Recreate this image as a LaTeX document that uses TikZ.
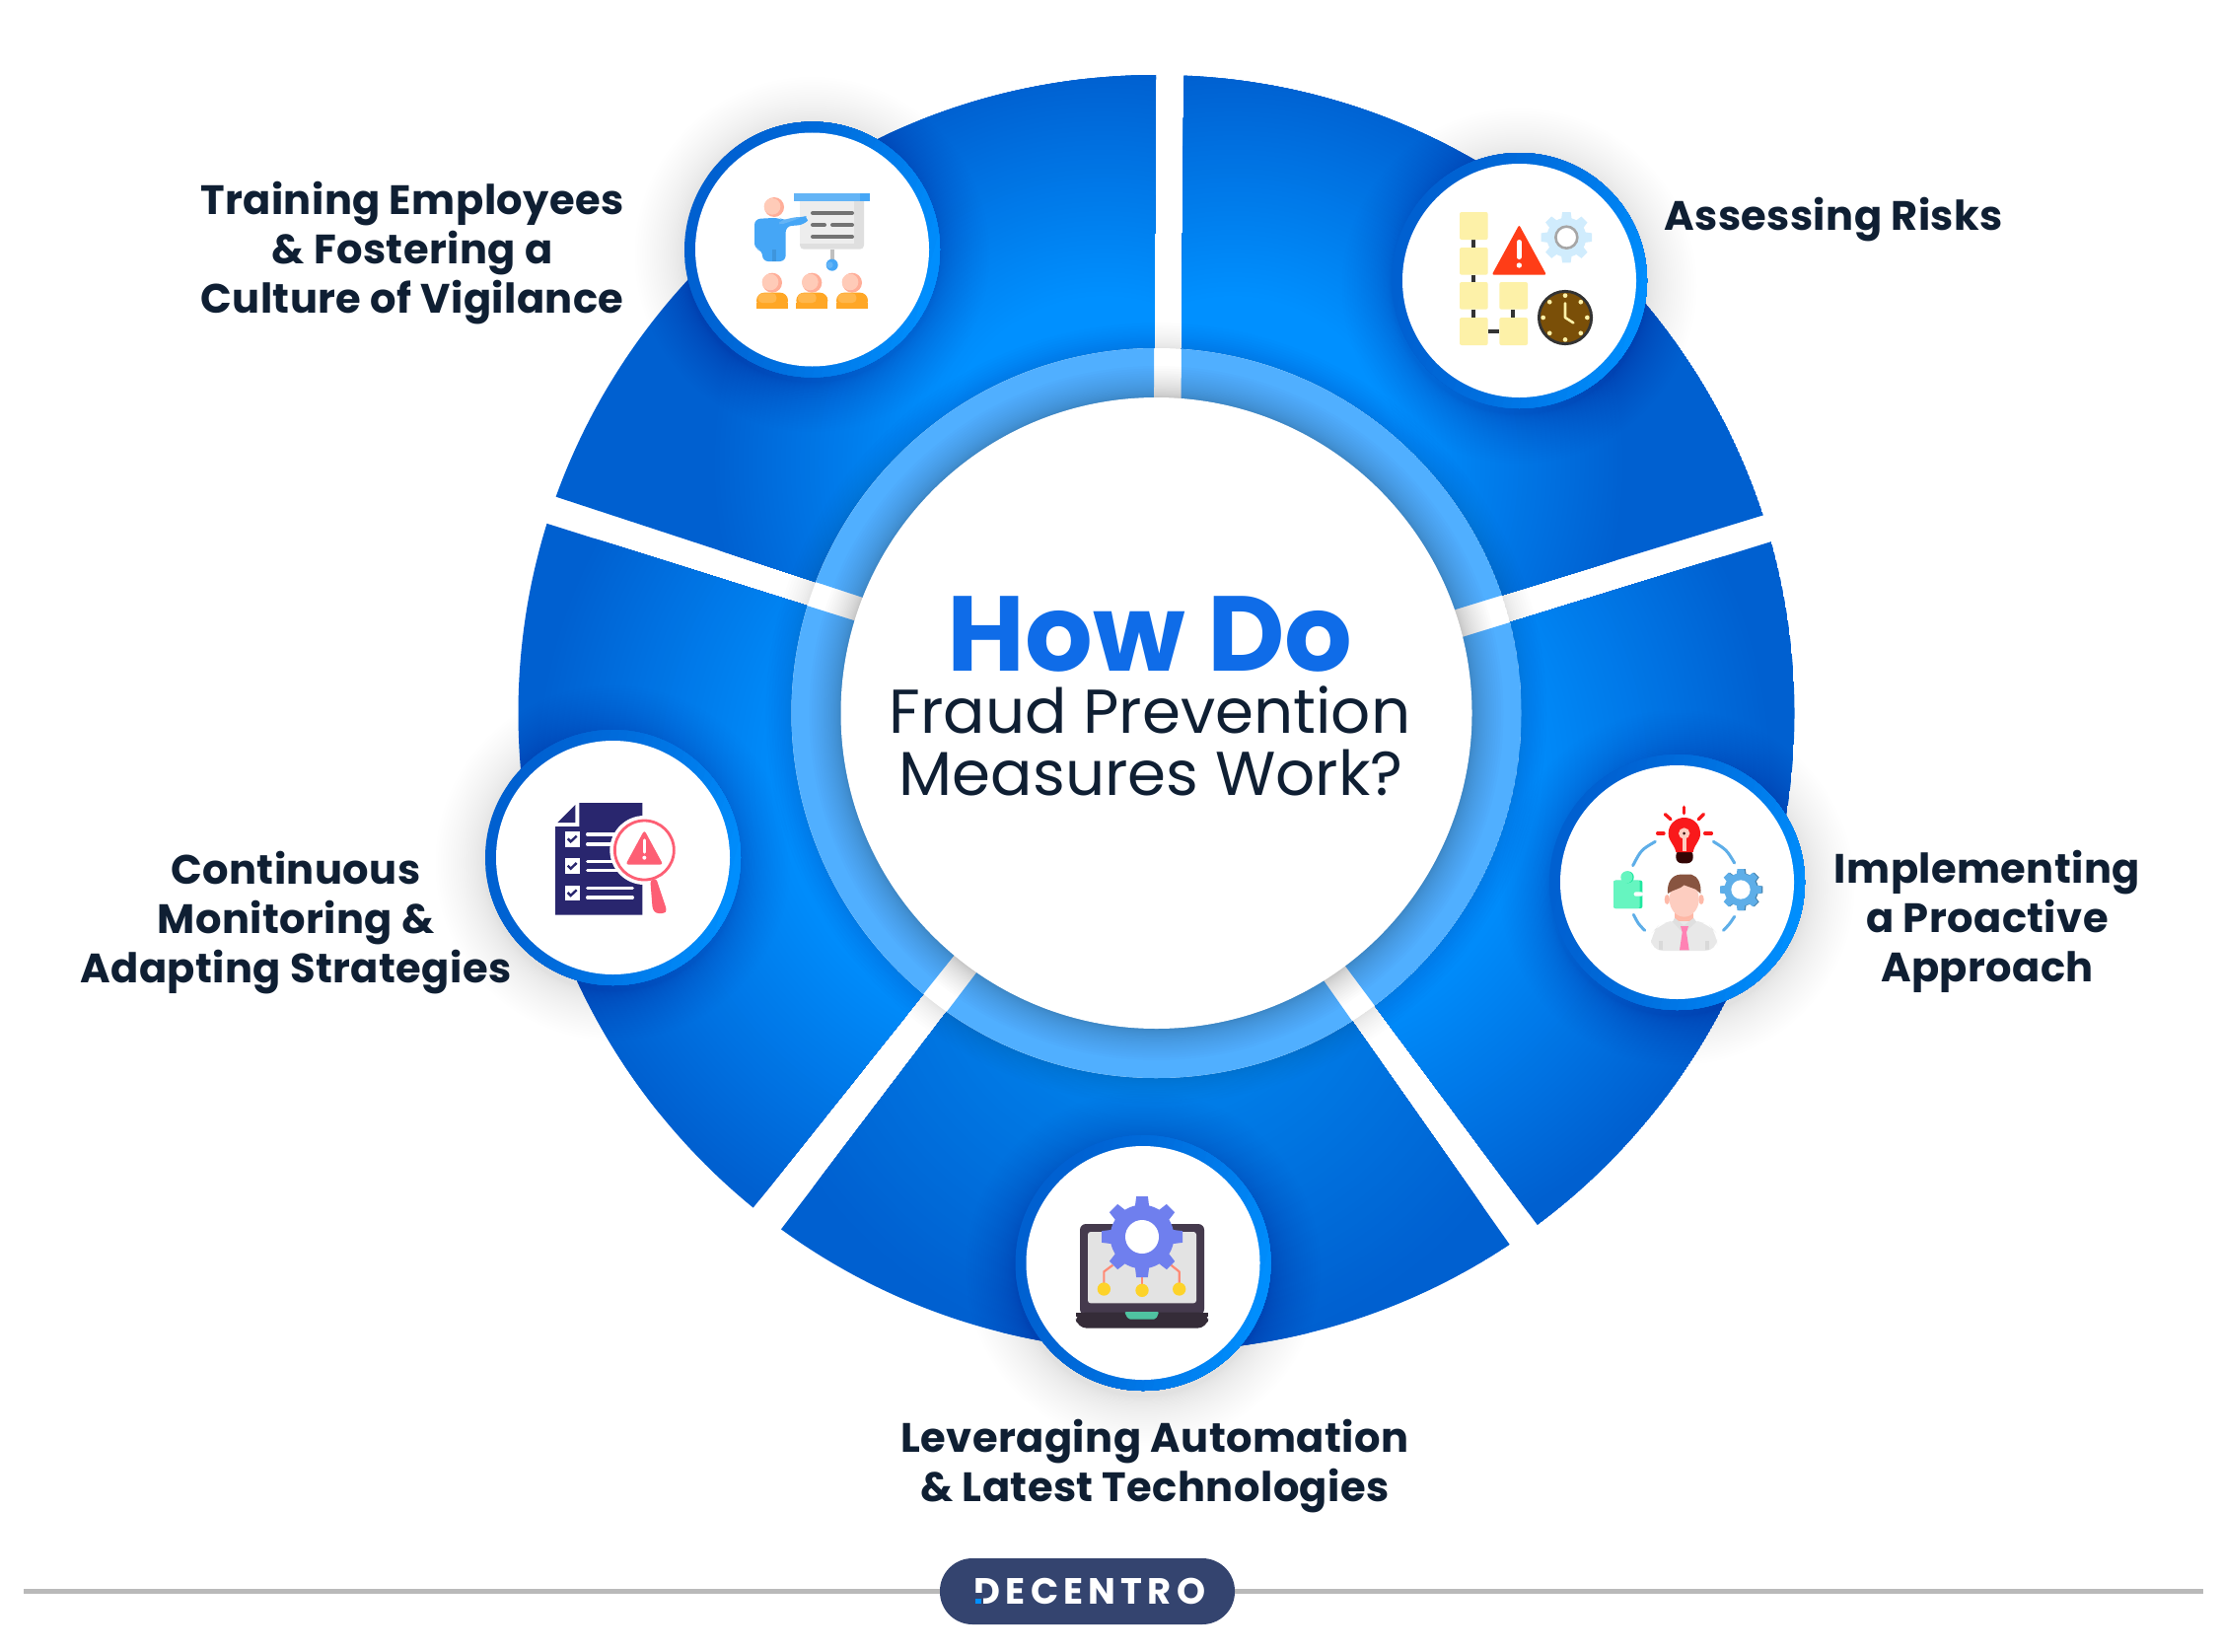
\documentclass[tikz,border=0pt]{standalone}
\usepackage{fontspec}
\setmainfont{Poppins}
\definecolor{brightB}{HTML}{0090FF}
\definecolor{midB}{HTML}{0082EC}
\definecolor{darkB}{HTML}{0060D0}
\definecolor{ringB}{HTML}{50AFFF}
\definecolor{ink}{HTML}{0F1F33}
\definecolor{navy}{HTML}{34446F}
\definecolor{skin}{HTML}{FFCBB8}
\definecolor{skinD}{HTML}{FFAE99}
\definecolor{sky}{HTML}{45A6F6}
\definecolor{skyL}{HTML}{63B4F6}
\definecolor{note}{HTML}{FDF1A8}
\definecolor{coal}{HTML}{333333}
\definecolor{alert}{HTML}{FF3D17}
\definecolor{pale}{HTML}{D0ECFD}
\definecolor{brown}{HTML}{7A4F08}
\definecolor{bulb}{HTML}{F9191B}
\definecolor{arcB}{HTML}{5EAEE8}
\definecolor{mint}{HTML}{66F5C0}
\definecolor{mintD}{HTML}{20E8A0}
\definecolor{hair}{HTML}{885440}
\definecolor{face}{HTML}{FDCDC0}
\definecolor{shirt}{HTML}{E8E8E8}
\definecolor{tie}{HTML}{FF82B4}
\definecolor{lapD}{HTML}{453A4D}
\definecolor{lapB}{HTML}{352C38}
\definecolor{cog}{HTML}{6F7FEE}
\definecolor{wire}{HTML}{FF8A75}
\definecolor{dotY}{HTML}{FDD32A}
\definecolor{teal}{HTML}{4FC3A1}
\definecolor{docN}{HTML}{29266E}
\definecolor{rose}{HTML}{FD5F74}
\definecolor{orng}{HTML}{FFA726}
\definecolor{orngL}{HTML}{FFB74D}
\definecolor{titleB}{HTML}{0F6CE8}
\definecolor{shade1}{HTML}{1A3A66}
\tikzset{
 zoomat/.style 2 args={shift={(#1,#2)},x=0.16667pt,y=-0.16667pt},
 lab/.style={font=\fontsize{20.8pt}{25pt}\selectfont\bfseries\addfontfeature{LetterSpace=1},text=ink,align=center,inner sep=0pt},
 thinline/.style={line width=#1*0.16667pt,line cap=round}
}
\newcommand\softdisc[7]{% cx cy rin rout steps op colour
 \foreach \kk in {1,...,#5}{%
  \pgfmathsetmacro\rr{#3+(#4-#3)*(\kk/#5)^1.6}%
  \fill[#7,opacity=#6] (#1,#2) circle (\rr);}}
\newcommand\cogwheel[7]{% cx cy root out halfw n colour
 \fill[#7] (#1,#2) circle (#3);
 \foreach \kk in {1,...,#6}{%
  \pgfmathsetmacro\aa{\kk*360/#6}%
  \fill[#7,rotate around={\aa:(#1,#2)}] ({#1-#5},{#2-#3*0.9}) -- ({#1-#5*0.8},{#2-#4}) -- ({#1+#5*0.8},{#2-#4}) -- ({#1+#5},{#2-#3*0.9}) -- cycle;}}
\newcommand\badge[2]{%
 \begin{scope}
  \clip (#1,#2) circle (129.5);
  \fill[darkB] (#1,#2) circle (129.5);
  \foreach \kk in {1,...,30}{%
   \pgfmathsetmacro\pp{100*(\kk/30)^1.5}%
   \fill[brightB!\pp!darkB,rotate around={-15:(#1,#2)}] ({#1-130+\kk*8.6},{#2-150}) rectangle ({#1+150},{#2+150});}
 \end{scope}
 \fill[white] (#1,#2) circle (118.5);}
\newcommand\sector[6]{% polygon, cx, cy, r-full-colour, r-dark, inner colour
 \begin{scope}
  \clip #1;
  \clip (1172.5,723) circle (647);
  \fill[darkB] (1172.5,723) circle (647);
  \foreach \kk in {0,...,48}{%
   \pgfmathsetmacro\rr{#5-(#5-#4)*\kk/48}%
   \pgfmathsetmacro\pp{\kk*100/48}%
   \fill[#6!\pp!darkB] (#2,#3) circle (\rr);}
 \end{scope}}
\def\polyTL{(400,450) -- (1168,702) -- (1172.5,0) -- (400,0) -- cycle}
\def\polyTR{(1201,0) -- (1195,704) -- (1900,488) -- (1900,0) -- cycle}
\def\polyR{(1900,517) -- (1185,738) -- (1676,1400) -- (1900,1400) -- cycle}
\def\polyB{(1628,1400) -- (1170,750) -- (675,1400) -- cycle}
\def\polyBL{(400,482) -- (1163,723) -- (624,1400) -- (400,1400) -- cycle}
\begin{document}
\begin{tikzpicture}[x=0.5pt,y=-0.5pt]
\useasboundingbox (0,0) rectangle (2253,1675);
\fill[white] (0,0) rectangle (2253,1675);
% sectors
\sector{\polyTL}{1120}{470}{170}{400}{brightB}
\sector{\polyTR}{1250}{470}{170}{400}{brightB}
\sector{\polyR}{1290}{790}{240}{510}{brightB}
\sector{\polyBL}{1050}{790}{240}{510}{brightB}
\sector{\polyB}{1172}{950}{130}{430}{midB}
% shadow cast by the ring
\softdisc{1172.5}{723}{370}{396}{14}{0.008}{black}
% light ring
\begin{scope}
 \clip (1172.5,723) circle (370);
 \fill[white] (1172.5,723) circle (370);
 \fill[ringB] \polyTL; \fill[ringB] \polyTR; \fill[ringB] \polyR; \fill[ringB] \polyB; \fill[ringB] \polyBL;
\end{scope}
\softdisc{1172.5}{723}{320}{352}{20}{0.012}{black}
\fill[white] (1172.5,723) circle (320);
% badge shadows
\softdisc{823.5}{258}{130}{180}{30}{0.0055}{shade1}
\softdisc{1540.5}{290}{130}{180}{30}{0.0055}{shade1}
\softdisc{1700.5}{900}{130}{180}{30}{0.0055}{shade1}
\softdisc{1159}{1286}{130}{180}{30}{0.0055}{shade1}
\softdisc{621.5}{875}{130}{180}{30}{0.0055}{shade1}
% badges
\badge{823.5}{253}
\badge{1540.5}{284.5}
\badge{1700.5}{894.5}
\badge{1159}{1280.5}
\badge{621.5}{869.5}
% icon 1: training
\begin{scope}[zoomat={680}{100}]
 \fill[skyL] (375,288) rectangle (606,312);
 \fill[sky] (576,288) rectangle (606,312);
 \fill[gray!25,rounded corners=2pt] (393,300) -- (393,458) -- (588,458) -- (588,300) -- cycle;
 \fill[white!93!black] (393,312) rectangle (558,440);
 \fill[skyL] (375,288) rectangle (576,312);
 \fill[sky] (576,288) rectangle (606,312);
 \foreach \ya/\xa/\xb in {348/426/558,384/426/474,384/486/558,420/426/558}
  \draw[thinline=12,gray!90!black] (\xa+6,\ya) -- (\xb-6,\ya);
 \fill[gray!50] (486,458) rectangle (498,490);
 \fill[sky] (491,506) circle (18);
 \fill[skyL] (484,506) circle (10);
 \fill[skinD] (315,330) circle (30);
 \fill[skin] (309,328) circle (25);
 \fill[sky,rounded corners=3pt] (279,495) -- (279,460) -- (255,458) -- (255,366) -- (330,362) -- (345,372) -- (395,360) .. controls (408,358) and (418,370) .. (405,384) -- (350,388) -- (350,495) -- cycle;
 \fill[skyL,rounded corners=2pt] (330,372) -- (380,360) -- (400,360) -- (370,372) -- (330,385) -- cycle;
 \fill[black!10!sky] (309,460) rectangle (322,495);
 \foreach \dx in {0,121,243}{
  \fill[skinD] ({309+\dx},560) circle (30);
  \fill[skin] ({303+\dx},558) circle (25);
  \fill[orng,rounded corners=4pt] ({261+\dx},638) -- ({261+\dx},590) -- ({357+\dx},590) -- ({357+\dx},638) -- cycle;
  \fill[orng] ({261+\dx},620) rectangle ({357+\dx},638);
  \fill[orngL,rounded corners=2pt] ({266+\dx},621) -- ({266+\dx},592) -- ({322+\dx},592) -- ({322+\dx},621) -- cycle;
 }
\end{scope}
% icon 2: risks
\begin{scope}[zoomat={1400}{140}]
 \foreach \xa/\ya/\xb/\yb in {282/309/282/333,282/416/282/438,282/521/282/546,403/521/403/546}
  \draw[coal,line width=2pt] (\xa,\ya) -- (\xb,\yb);
 \draw[coal,line width=2pt] (326,589) -- (361,589);
 \foreach \xa/\ya/\xb/\yb in {240/225/326/309,240/333/326/416,240/438/326/521,240/546/326/630,361/438/447/521,361/546/447/630}
  \fill[note,rounded corners=1pt] (\xa,\ya) rectangle (\xb,\yb);
 \fill[alert,rounded corners=1pt] (421,264) -- (338,416) -- (504,416) -- cycle;
 \draw[white,thinline=14] (421,316) -- (421,362);
 \fill[white] (421,387) circle (8);
 \cogwheel{565}{302}{60}{77}{16}{8}{pale}
 \fill[white] (565,302) circle (36);
 \draw[gray!70,line width=1.3pt] (565,302) circle (33);
 \fill[brown,draw=coal,line width=1.4pt] (561,546) circle (80);
 \foreach \aa in {0,45,...,315}
  \fill[note] ({561+67*cos(\aa)},{546+67*sin(\aa)}) circle (7);
 \draw[note,line width=1.3pt,line cap=round,line join=round] (561,502) -- (561,546) -- (586,562);
\end{scope}
% icon 3: proactive
\begin{scope}[zoomat={1560}{760}]
 \draw[bulb,thinline=10] (443,175) -- (443,194);
 \draw[bulb,thinline=10] (385,197) -- (402,212);
 \draw[bulb,thinline=10] (502,197) -- (487,212);
 \draw[bulb,thinline=10] (362,255) -- (381,255);
 \draw[bulb,thinline=10] (506,255) -- (526,255);
 \fill[black!80!bulb,rounded corners=3pt] (418,305) -- (470,305) -- (470,346) -- (418,346) -- cycle;
 \fill[bulb] (418,312) .. controls (412,285) and (395,280) .. (395,255) .. controls (395,225) and (420,207) .. (443,207) .. controls (468,207) and (492,225) .. (492,255) .. controls (492,280) and (475,285) .. (470,312) -- cycle;
 \fill[face] (437,268) rectangle (449,310);
 \fill[face] (443,255) circle (17);
 \fill[black!80!bulb] (443,255) circle (4.5);
 \foreach \xa/\ya/\xc/\yc/\xb/\yb in {355/280/312/305/287/353,532/280/572/305/596/345,289/502/303/530/323/550,596/508/580/532/562/550}
  \draw[arcB,thinline=9] (\xa,\ya) .. controls (\xc,\yc) .. (\xb,\yb);
 \fill[mintD,rounded corners=1pt] (228,398) rectangle (316,483);
 \fill[mint,rounded corners=1pt] (228,398) rectangle (308,483);
 \fill[mintD] (272,388) circle (18);
 \fill[mint] (268,388) circle (18);
 \fill[white,rounded corners=1pt] (290,433) rectangle (318,446);
 \cogwheel{619}{426}{50}{63}{13}{8}{black!25!arcB}
 \cogwheel{615}{426}{50}{63}{13}{8}{arcB}
 \fill[white] (615,426) circle (29);
 \fill[shirt,rounded corners=6pt] (342,612) -- (342,560) -- (368,532) -- (415,518) -- (470,518) -- (518,532) -- (543,560) -- (543,612) -- cycle;
 \fill[gray!30] (366,582) rectangle (378,610);
 \fill[gray!30] (507,582) rectangle (519,610);
 \fill[skinD!70!face] (415,490) rectangle (472,522);
 \fill[gray!25] (414,512) -- (442,535) -- (472,512) -- (480,524) -- (452,550) -- (432,550) -- (408,524) -- cycle;
 \fill[tie] (432,537) -- (456,537) -- (450,556) -- (458,610) -- (429,610) -- (437,556) -- cycle;
 \fill[skinD!60!face] (391,456) ellipse (8 and 15);
 \fill[skinD!60!face] (495,456) ellipse (8 and 15);
 \fill[face] (443,455) ellipse (45 and 54);
 \fill[skinD!60!face] (420,505) .. controls (430,520) and (456,520) .. (468,505) -- (468,512) .. controls (456,525) and (430,525) .. (420,512) -- cycle;
 \fill[hair] (393,438) .. controls (390,405) and (405,382) .. (430,380) -- (465,380) .. controls (485,385) and (496,410) .. (493,438) -- (478,425) .. controls (465,420) and (450,415) .. (443,412) .. controls (430,425) and (410,425) .. (393,438) -- cycle;
\end{scope}
% icon 4: automation
\begin{scope}[zoomat={1020}{1160}]
 \fill[lapD,rounded corners=3pt] (225,243) rectangle (603,520);
 \fill[gray!22,rounded corners=1.4pt] (249,267) rectangle (579,484);
 \fill[lapB,rounded corners=5pt] (210,512) -- (618,512) -- (612,560) -- (216,560) -- cycle;
 \fill[lapB] (212,512) rectangle (616,526);
 \fill[teal,rounded corners=1pt] (360,510) -- (466,510) -- (456,533) -- (372,533) -- cycle;
 \draw[wire,line width=1.1pt,line join=round] (325,368) -- (298,388) -- (298,430);
 \draw[wire,line width=1.1pt] (414,395) -- (414,430);
 \draw[wire,line width=1.1pt,line join=round] (502,368) -- (527,388) -- (527,430);
 \fill[dotY] (298,441) circle (20);
 \fill[dotY] (414,445) circle (20);
 \fill[dotY] (527,441) circle (20);
 \cogwheel{414}{282}{97}{123}{22}{8}{cog}
 \fill[white] (414,282) circle (51);
\end{scope}
% icon 5: monitoring
\begin{scope}[zoomat={500}{750}]
 \fill[docN] (262,192) -- (454,192) -- (454,533) -- (189,533) -- (189,264) -- (262,264) -- cycle;
 \fill[docN] (196,252) -- (250,198) -- (250,252) -- cycle;
 \foreach \yy in {279,361,443}{
  \fill[white] (219,\yy) rectangle (265,{\yy+47});
  \draw[docN,line width=1.2pt] (227,{\yy+22}) -- (236,{\yy+31}) -- (254,{\yy+14});
 }
 \foreach \ya/\xb in {288/370,318/370,370/370,398/380,452/424,480/424}
  \draw[white,thinline=10] (287,\ya) -- (\xb,\ya);
 \fill[white] (460,336) circle (105);
 \draw[rose,line width=1.4pt] (460,336) circle (90);
 \fill[rose,rounded corners=1.5pt] (460,275) -- (403,380) -- (517,380) -- cycle;
 \draw[white,thinline=10] (460,306) -- (460,342);
 \fill[white] (460,359) circle (6);
 \fill[rose,rounded corners=1.3pt] (478,428) -- (496,422) -- (528,518) -- (522,528) -- (495,528) -- (485,515) -- cycle;
\end{scope}
% title
\node[font=\fontsize{54pt}{54pt}\selectfont\bfseries,text=titleB,inner sep=0pt,anchor=base] (t1) at (1166,680) {How Do};
\node[font=\fontsize{31.4pt}{31.4pt}\selectfont,text=ink,inner sep=0pt,anchor=base] (t2) at (1166,743) {Fraud Prevention};
\node[font=\fontsize{31.4pt}{31.4pt}\selectfont,text=ink,inner sep=0pt,anchor=base] (t3) at (1167,806) {Measures Work?};
% labels
\node[lab] (l1) at (418,257) {Training Employees\\\& Fostering a\\Culture of Vigilance};
\node[lab] (l2) at (1859,223) {Assessing Risks};
\node[lab] (l3) at (2015,934) {Implementing\\a Proactive\\Approach};
\node[lab] (l4) at (1171,1487) {Leveraging Automation\\\& Latest Technologies};
\node[lab] (l5) at (300,936) {Continuous\\Monitoring \&\\Adapting Strategies};
% footer
\coordinate (fl) at (24,1613.5);
\coordinate (fr) at (2234,1613.5);
\draw[gray!55,line width=2.5pt] (fl) -- (fr);
\fill[navy,rounded corners=16.5pt] (953,1580) rectangle (1252,1647);
\node[font=\fontsize{18.5pt}{18.5pt}\selectfont\bfseries\addfontfeature{LetterSpace=14},text=white,inner sep=0pt] (logo) at (1105,1613.5) {DECENTRO};
\fill[navy] (986,1615) rectangle (996.5,1630);
\fill[brightB] (989,1620.7) rectangle (995,1625.6);
\end{tikzpicture}
\end{document}
